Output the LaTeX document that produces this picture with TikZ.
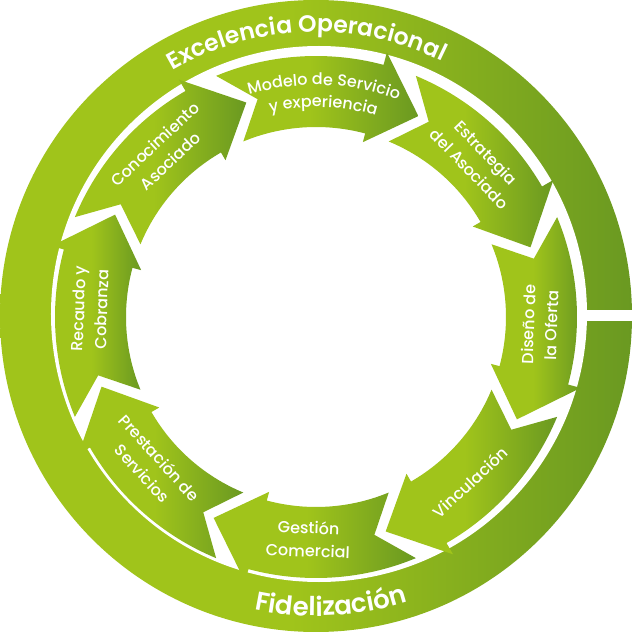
\documentclass[tikz,border=0pt]{standalone}
\usepackage{fontspec}
\setmainfont{Poppins}[UprightFont=* Medium, BoldFont=* SemiBold]
\usetikzlibrary{decorations.text}
\definecolor{lg}{RGB}{160,196,27}
\definecolor{dg}{RGB}{106,153,33}
\pgfdeclarehorizontalshading{ringsh}{100bp}{color(0bp)=(lg); color(25bp)=(lg); color(48bp)=(lg); color(75bp)=(dg); color(100bp)=(dg)}
\pgfdeclarehorizontalshading{arrsh}{100bp}{color(0bp)=(lg); color(25bp)=(lg); color(48bp)=(lg); color(75bp)=(dg); color(100bp)=(dg)}
\begin{document}
\begin{tikzpicture}[x=1pt,y=1pt,
  lab/.style={text=white, align=center, font=\fontsize{16}{23}\selectfont, inner sep=0pt},
  ringtext/.style={decorate, decoration={text along path, text align=center, text color=white, text={#1}}}]
\useasboundingbox (-316,-316) rectangle (319,316);
\fill[white] (-316,-316) rectangle (319,316);
% outer ring
\shade[shading=ringsh] (0,0) circle[radius=316];
\fill[white] (3,2) circle[radius=268];
\fill[white] (262,6) rectangle (320,-5);
% ring texts
\path[ringtext={|\fontsize{23.5}{24}\selectfont\bfseries|Excelencia Operacional}]
  (125:284) arc[start angle=125, end angle=59, radius=284];
\path[ringtext={|\fontsize{26}{26}\selectfont\bfseries|Fidelización}]
  (-117:300) arc[start angle=-117, end angle=-57, radius=300];
% arrows
\begin{scope}[shift={(0,-1)}]
\foreach \a in {90,45,0,-45,-90,-135,180,135}{
  \shade[shading=arrsh] (\a+22.5:261) arc[start angle=\a+22.5, end angle=\a-15, radius=261]
    -- (\a-15:274) -- (\a-27:225.5) -- (\a-15:181) -- (\a-15:190)
    arc[start angle=\a-15, end angle=\a+22.5, radius=190] -- (\a+15:225.5) -- cycle;
}
% labels
\path[ringtext={|\fontsize{16}{16}\selectfont|Modelo de Servicio}]
  (122:232) arc[start angle=122, end angle=54, radius=232];
\path[ringtext={|\fontsize{16}{16}\selectfont|y experiencia}]
  (122:210) arc[start angle=122, end angle=54, radius=210];
\node[lab, rotate=-46] (estrategia) at (44:225) {Estrategia\\del Asociado};
\node[lab, rotate=88] (diseno) at (-2:224) {Diseño de\\la Oferta};
\node[lab, rotate=43] (vinculacion) at (-47:226) {Vinculación};
\node[lab, rotate=-2] (gestion) at (-92:222) {Gestión\\Comercial};
\node[lab, rotate=-48] (prestacion) at (-138:222) {Prestación de\\Servicios};
\node[lab, rotate=88] (recaudo) at (178:226) {Recaudo y\\Cobranza};
\node[lab, rotate=43] (conocimiento) at (133:225) {Conocimiento\\Asociado};
\end{scope}
\end{tikzpicture}
\end{document}
